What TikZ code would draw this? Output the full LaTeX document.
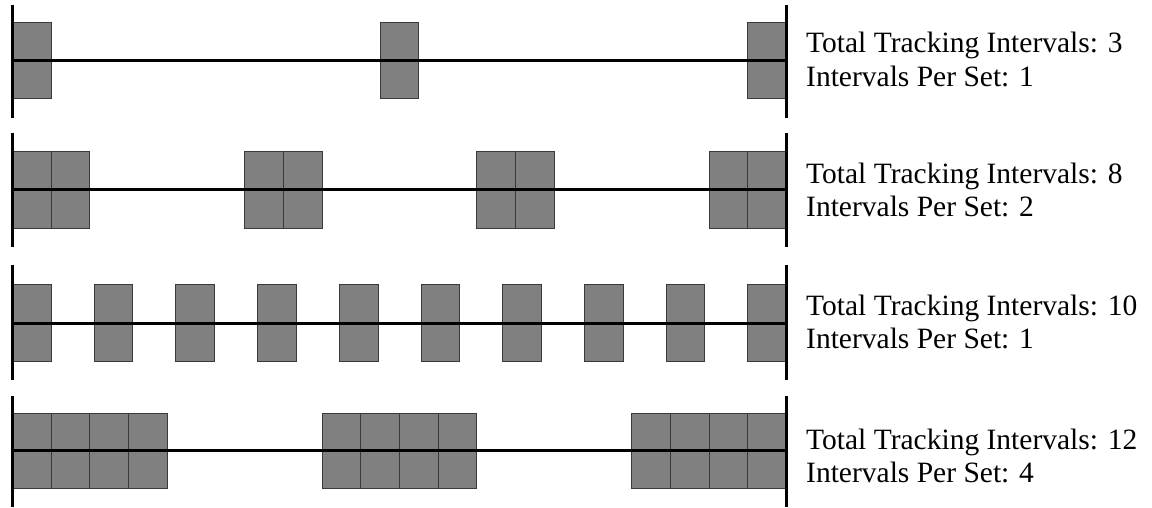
\documentclass[tikz,border=0pt]{standalone}
\usepackage{fontspec}
\setmainfont{Liberation Serif}
\definecolor{boxgray}{HTML}{808080}
\definecolor{boxedge}{HTML}{3A3A3A}
\newcommand{\trackrow}[8]{%
  % #1 bar top, #2 bar bottom, #3 box top, #4 box bottom, #5 line y, #6 sets, #7 per set, #8 name
  \pgfmathsetmacro\gap{(20-#7)/(#6-1)}
  \foreach \s in {1,...,#6} {
    \foreach \k in {1,...,#7} {
      \pgfmathsetmacro\xa{12.5+38.7*((\s-1)*\gap+\k-1)}
      \draw[cell] (\xa,#3) rectangle ++(38.7,#4-#3);
    }
  }
  \coordinate (#8L) at (12.5,#5);
  \coordinate (#8R) at (786.5,#5);
  \coordinate (#8LT) at (12.5,#1);
  \coordinate (#8LB) at (12.5,#2);
  \coordinate (#8RT) at (786.5,#1);
  \coordinate (#8RB) at (786.5,#2);
  \draw[axis] (#8L) -- (#8R);
  \draw[bar] (#8LT) -- (#8LB);
  \draw[bar] (#8RT) -- (#8RB);
}
\begin{document}
\begin{tikzpicture}[x=1pt,y=-1pt,
  cell/.style={fill=boxgray, draw=boxedge, line width=1pt},
  axis/.style={line width=3pt, draw=black},
  bar/.style={line width=3pt, draw=black},
  lab/.style={anchor=base west, inner sep=0pt, font=\fontsize{29.5}{33}\selectfont}]
\useasboundingbox (0,0) rectangle (1152,508);
\trackrow{5}{118}{23}{99}{61}{3}{1}{ra}
\trackrow{133}{247}{152}{228}{190}{4}{2}{rb}
\trackrow{265}{380}{284}{361}{323}{10}{1}{rc}
\trackrow{396}{507}{413}{488}{450}{3}{4}{rd}
\node[lab] (ta1) at (806,53) {Total Tracking Intervals: 3};
\node[lab] (ta2) at (806,87) {Intervals Per Set: 1};
\node[lab] (tb1) at (806,183) {Total Tracking Intervals: 8};
\node[lab] (tb2) at (806,216) {Intervals Per Set: 2};
\node[lab] (tc1) at (806,315) {Total Tracking Intervals: 10};
\node[lab] (tc2) at (806,348) {Intervals Per Set: 1};
\node[lab] (td1) at (806,449) {Total Tracking Intervals: 12};
\node[lab] (td2) at (806,482) {Intervals Per Set: 4};
\end{tikzpicture}
\end{document}
